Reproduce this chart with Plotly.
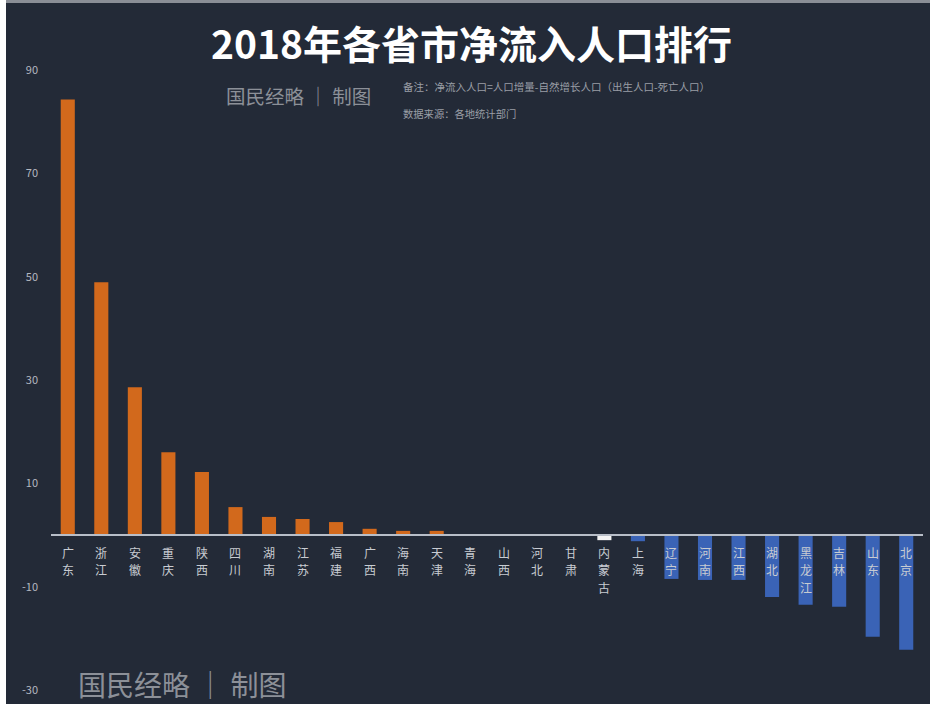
import plotly.graph_objects as go

provinces = ["广东", "浙江", "安徽", "重庆", "陕西", "四川", "湖南", "江苏", "福建", "广西", "海南", "天津",
             "青海", "山西", "河北", "甘肃", "内蒙古", "上海", "辽宁", "河南", "江西", "湖北", "黑龙江", "吉林",
             "山东", "北京"]
net_inflow = [84.3, 48.9, 28.6, 16.0, 12.2, 5.4, 3.5, 3.1, 2.5, 1.2, 0.8, 0.8,
              0.0, 0.0, 0.0, 0.0, -1.0, -1.2, -8.5, -8.7, -8.7, -12.0, -13.5, -13.9,
              -19.7, -22.2]
y_ticks = [90, 70, 50, 30, 10, -10, -30]

ORANGE = "#d2691c"
BLUE = "#3a63b6"
WHITE_BAR = "#f4f4f4"
BG = "#232a37"

colors = []
for name, v in zip(provinces, net_inflow):
    if name == "内蒙古":
        colors.append(WHITE_BAR)
    elif v >= 0:
        colors.append(ORANGE)
    else:
        colors.append(BLUE)

W, H = 930, 704
ml, mr, mt, mb = 51, 7, 40, 4
ppu = 620 / 120.0
ymax = 90 + (70 - mt) / ppu
ymin = -30 - ((H - mb) - 690) / ppu
zero_pos = (0 - ymin) / (ymax - ymin)

fig = go.Figure()
fig.add_trace(go.Bar(
    x=provinces, y=net_inflow, marker=dict(color=colors, line=dict(width=0)),
    width=0.42, hoverinfo="x+y"))

fig.update_layout(
    width=W, height=H,
    margin=dict(l=ml, r=mr, t=mt, b=mb),
    paper_bgcolor=BG, plot_bgcolor=BG,
    showlegend=False,
    font=dict(family="Noto Sans CJK SC, Noto Sans, sans-serif", color="#c4c8d0"),
    xaxis=dict(
        type="category",
        anchor="free", position=zero_pos,
        showline=True, linecolor="#b8bec8", linewidth=1.5,
        showgrid=False, ticks="", showticklabels=False,
        range=[-0.5, len(provinces) - 0.5],
    ),
    yaxis=dict(
        range=[ymin, ymax],
        tickmode="array", tickvals=y_ticks, ticktext=[str(t) for t in y_ticks],
        showgrid=False, zeroline=False, showline=False, ticks="",
        tickfont=dict(size=11, color="#b4b8c0"),
        ticklabelstandoff=12,
    ),
)

# vertical (stacked) category labels just below the zero line
for p in provinces:
    for j, ch in enumerate(p):
        fig.add_annotation(
            x=p, y=0, xref="x", yref="y", text=ch, showarrow=False,
            xanchor="center", yanchor="middle", yshift=-(17 + 17.5 * j),
            borderpad=0, font=dict(size=12, color="#c8ccd2"))


def py(pix):
    return 1 - (pix - mt) / (H - mt - mb)


def px(pix):
    return (pix - ml) / (W - ml - mr)


fig.add_annotation(
    text="<b>2018年各省市净流入人口排行</b>", xref="paper", yref="paper",
    x=px(471), y=py(42), xanchor="center", yanchor="middle", showarrow=False,
    font=dict(size=39, color="#ffffff", family="Noto Sans CJK SC"))
fig.add_annotation(
    text="国民经略 ｜ 制图", xref="paper", yref="paper", x=px(224), y=py(95),
    xanchor="left", yanchor="middle", showarrow=False,
    font=dict(size=19.5, color="#8c9098", family="Noto Sans CJK SC"))
fig.add_annotation(
    text="备注：净流入人口=人口增量-自然增长人口（出生人口-死亡人口）", xref="paper", yref="paper",
    x=px(401), y=py(86), xanchor="left", yanchor="middle", showarrow=False,
    font=dict(size=10.5, color="#9a9ea6", family="Noto Sans CJK SC"))
fig.add_annotation(
    text="数据来源：各地统计部门", xref="paper", yref="paper",
    x=px(401), y=py(113), xanchor="left", yanchor="middle", showarrow=False,
    font=dict(size=10.3, color="#9a9ea6", family="Noto Sans CJK SC"))
fig.add_annotation(
    text="国民经略 ｜ 制图", xref="paper", yref="paper", x=px(76), y=py(684),
    xanchor="left", yanchor="middle", showarrow=False,
    font=dict(size=28, color="#8c9098", family="Noto Sans CJK SC"))

# white strip on the left edge and thin grey line on top, as in the picture
fig.add_shape(type="rect", xref="paper", yref="paper",
              x0=px(0), x1=px(6), y0=py(H), y1=py(0),
              fillcolor="#ffffff", line=dict(width=0), layer="above")
fig.add_shape(type="rect", xref="paper", yref="paper",
              x0=px(6), x1=px(W), y0=py(3), y1=py(0),
              fillcolor="#8a8e96", line=dict(width=0), layer="above")

fig.write_html("out.html", config={"displayModeBar": False},
               post_script="document.body.style.margin='0';")
